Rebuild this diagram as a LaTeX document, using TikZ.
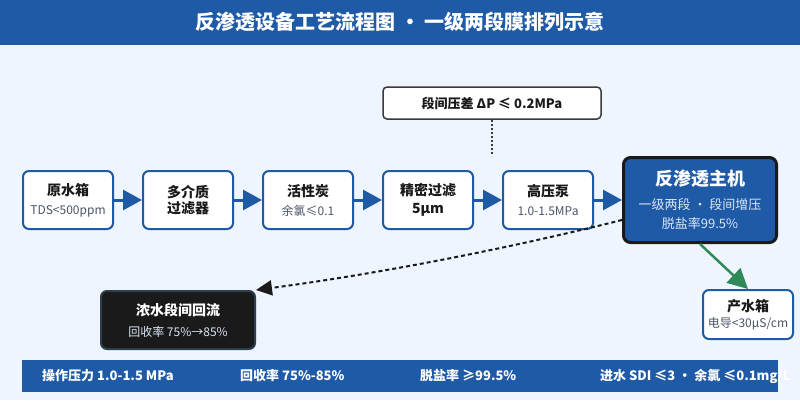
\documentclass[tikz,border=0pt]{standalone}
\usepackage{fontspec}
\setmainfont{Noto Sans CJK SC}
\usetikzlibrary{arrows.meta}
\definecolor{bgc}{HTML}{EEF5FE}
\definecolor{mainblue}{HTML}{1F5AA6}
\definecolor{darkc}{HTML}{1A1A1A}
\definecolor{slatec}{HTML}{2C3E50}
\definecolor{subgray}{HTML}{4A5568}
\definecolor{greenc}{HTML}{2E8B57}
\definecolor{lightc}{HTML}{DCE6F4}
\definecolor{notec}{HTML}{3A3A3A}
\begin{document}
\begin{tikzpicture}[x=1pt,y=-1pt,
  procbox/.style={draw=mainblue, line width=2pt, fill=white, rounded corners=6pt,
    minimum width=90pt, minimum height=58pt, inner sep=0pt, align=center,
    text=darkc, font=\fontsize{12}{19}\selectfont},
  flowarrow/.style={draw=mainblue, line width=3pt, -{Triangle[length=19pt,width=20pt]}},
  barlabel/.style={anchor=west, text=white, font=\fontsize{13}{15}\selectfont\bfseries, inner sep=0pt}
]
\useasboundingbox (0,0) rectangle (800,400);
\fill[bgc] (0,0) rectangle (800,400);
\fill[mainblue] (0,0) rectangle (800,45);
\node[text=white, font=\fontsize{20}{24}\selectfont\bfseries] (title) at (400,22) {反渗透设备工艺流程图 · 一级两段膜排列示意};

\node[procbox] (tank) at (68,200) {{\fontsize{14}{17}\selectfont\bfseries 原水箱}\\{\color{subgray}TDS<500ppm}};
\node[procbox, font=\fontsize{14}{16}\selectfont\bfseries] (mmf) at (188,200) {多介质\\过滤器};
\node[procbox] (carbon) at (308,200) {{\fontsize{14}{17}\selectfont\bfseries 活性炭}\\{\color{subgray}余氯≤0.1}};
\node[procbox, font=\fontsize{14}{18}\selectfont\bfseries] (fine) at (428,200) {精密过滤\\5µm};
\node[procbox] (pump) at (548,200) {{\fontsize{14}{17}\selectfont\bfseries 高压泵}\\{\color{subgray}1.0-1.5MPa}};
\node[draw=darkc, line width=3pt, fill=mainblue, rounded corners=7pt, minimum width=153pt,
  minimum height=85pt, inner sep=0pt, align=center, text=lightc,
  font=\fontsize{13}{19}\selectfont] (ro) at (700,200)
  {{\fontsize{18}{22}\selectfont\bfseries\color{white}反渗透主机}\\[5pt]一级两段 · 段间增压\\脱盐率99.5\%};

\node[draw=notec, line width=1.5pt, fill=white, rounded corners=4pt, minimum width=218pt,
  minimum height=32pt, inner sep=0pt, text=darkc, font=\fontsize{13}{15}\selectfont\bfseries]
  (note) at (492,103) {段间压差 ΔP ≤ 0.2MPa};
\coordinate (noteend) at (492,155);
\draw[notec, line width=1.5pt, dash pattern=on 2pt off 2pt] (note.south) -- (noteend);

\node[draw=slatec, line width=2pt, fill=darkc, rounded corners=6pt, minimum width=154pt,
  minimum height=58pt, inner sep=0pt, align=center, text=lightc,
  font=\fontsize{12}{21}\selectfont] (conc) at (178,320)
  {{\fontsize{14}{17}\selectfont\bfseries\color{white}浓水段间回流}\\回收率 75\%→85\%};

\node[procbox, minimum height=49pt, font=\fontsize{12}{16}\selectfont] (prod) at (748,314.5)
  {{\fontsize{14}{17}\selectfont\bfseries 产水箱}\\{\color{subgray}电导<30µS/cm}};

\draw[flowarrow] (tank) -- (mmf);
\draw[flowarrow] (mmf) -- (carbon);
\draw[flowarrow] (carbon) -- (fine);
\draw[flowarrow] (fine) -- (pump);
\draw[flowarrow] (pump) -- (ro);

\draw[darkc, line width=2pt, dash pattern=on 4pt off 3pt, -{Triangle[length=16pt,width=15pt]}]
  ([yshift=-20pt]ro.west) .. controls (502,250) and (376,274) .. (conc.north east);
\draw[greenc, line width=2.5pt, -{Triangle[length=20pt,width=20pt]}] (ro.south) -- (prod.north);

\fill[mainblue] (22,360) rectangle (778,392);
\node[barlabel] (b1) at (42,376) {操作压力 1.0-1.5 MPa};
\node[barlabel] (b2) at (240,376) {回收率 75\%-85\%};
\node[barlabel] (b3) at (420,376) {脱盐率 ≥99.5\%};
\node[barlabel] (b4) at (600,376) {进水 SDI ≤3 · 余氯 ≤0.1mg/L};
\end{tikzpicture}
\end{document}
